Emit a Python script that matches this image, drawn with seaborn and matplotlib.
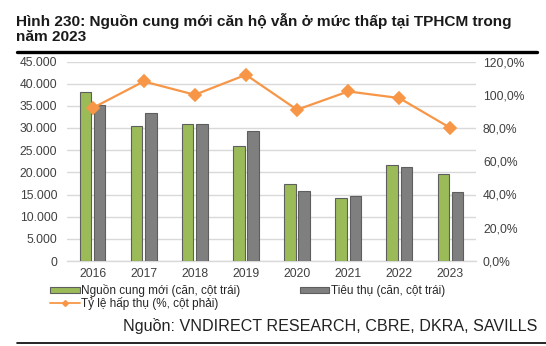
import matplotlib
matplotlib.use("Agg")
import matplotlib.pyplot as plt
from matplotlib.ticker import FuncFormatter, FixedLocator
from matplotlib.lines import Line2D
import seaborn as sns
import pandas as pd
import numpy as np

# ---- data ----
years = ["2016", "2017", "2018", "2019", "2020", "2021", "2022", "2023"]
supply = [38100, 30500, 31000, 26000, 17300, 14300, 21700, 19600]
sold = [35300, 33300, 31000, 29300, 15800, 14600, 21300, 15600]
absorption = [92, 108, 100, 112, 91, 102, 98, 80]  # percent

series_supply = "Nguồn cung mới (căn, cột trái)"
series_sold = "Tiêu thụ (căn, cột trái)"
series_rate = "Tỷ lệ hấp thụ (%, cột phải)"
title_text = "Hình 230: Nguồn cung mới căn hộ vẫn ở mức thấp tại TPHCM trong\nnăm 2023"
source_text = "Nguồn: VNDIRECT RESEARCH, CBRE, DKRA, SAVILLS"

sns.set_style("white")
plt.rcParams["font.family"] = ["Liberation Sans", "DejaVu Sans"]

GREEN = "#9BBB59"
GRAY = "#7F7F7F"
ORANGE = "#F79646"
GRID = "#D9D9D9"
TXT = "#404040"

df = pd.DataFrame({
    "year": years * 2,
    "value": supply + sold,
    "series": [series_supply] * len(years) + [series_sold] * len(years),
})

W, H = 546, 346
fig = plt.figure(figsize=(W / 100, H / 100), dpi=100)
ax = fig.add_axes([67 / W, (H - 261) / H, 409 / W, 199.5 / H])

sns.barplot(data=df, x="year", y="value", hue="series", ax=ax,
            palette=[GREEN, GRAY], width=0.56, gap=0.2,
            edgecolor="#5E5E5E", linewidth=0.8, saturation=1, zorder=3)
handles_bar = ax.legend_.legend_handles
ax.legend_.remove()

ax.set_ylim(0, 45000)
ax.set_xlim(-0.5, len(years) - 0.5)
ax.yaxis.set_major_locator(FixedLocator(np.arange(0, 45001, 5000)))
ax.yaxis.set_major_formatter(FuncFormatter(lambda v, p: f"{int(v):,}".replace(",", ".")))
ax.grid(axis="y", color=GRID, linewidth=1, zorder=0)
ax.set_axisbelow(True)
for s in ["top", "right", "left"]:
    ax.spines[s].set_visible(False)
ax.spines["bottom"].set_color(GRID)
ax.spines["bottom"].set_linewidth(1)
ax.set_xlabel("")
ax.set_ylabel("")
ax.tick_params(axis="y", length=0, pad=7, labelsize=8.7, labelcolor=TXT)
ax.tick_params(axis="x", length=0, pad=5, labelsize=8.7, labelcolor=TXT)
ax.xaxis.set_minor_locator(FixedLocator(np.arange(-0.5, len(years), 1.0)))
ax.tick_params(axis="x", which="minor", length=4, color=GRID, width=1)

ax2 = ax.twinx()
sns.pointplot(x=years, y=absorption, ax=ax2, color=ORANGE, markers="D",
              markersize=6, linewidth=1.6, zorder=5)
ax2.set_ylim(0, 120)
ax2.set_xlim(-0.5, len(years) - 0.5)
ax2.yaxis.set_major_locator(FixedLocator(np.arange(0, 121, 20)))
ax2.yaxis.set_major_formatter(FuncFormatter(lambda v, p: f"{v:.1f}%".replace(".", ",")))
ax2.tick_params(axis="y", length=0, pad=5, labelsize=8.7, labelcolor=TXT)
for s in ["top", "right", "left", "bottom"]:
    ax2.spines[s].set_visible(False)
ax2.set_ylabel("")
ax2.grid(False)

# legend
h_line = Line2D([], [], color=ORANGE, lw=1.3, marker="D", markersize=3)
fig.legend(handles=[handles_bar[0], h_line, handles_bar[1]],
           labels=[series_supply, series_rate, series_sold],
           ncol=2, loc="upper left", bbox_to_anchor=(50 / W, (H - 284) / H),
           frameon=False, fontsize=8.5, handlelength=2.5, handleheight=0.35,
           handletextpad=0.15, columnspacing=5.0, labelspacing=0.0,
           borderaxespad=0, borderpad=0, labelcolor="#262626")

# title and source
fig.text(16.5 / W, 1 - 13 / H, title_text, ha="left", va="top",
         fontsize=11.1, fontweight="bold", color="#1A1A1A", linespacing=1.12)
fig.text(537 / W, 1 - 326 / H, source_text, ha="right", va="center",
         fontsize=11.6, color="#222222")

# rules
fig.add_artist(Line2D([17 / W, 537 / W], [1 - 52 / H, 1 - 52 / H], color="black", lw=2.4))
fig.add_artist(Line2D([17 / W, 546 / W], [1 - 342.5 / H, 1 - 342.5 / H], color="black", lw=1.2))

fig.savefig("out.png", dpi=100)
